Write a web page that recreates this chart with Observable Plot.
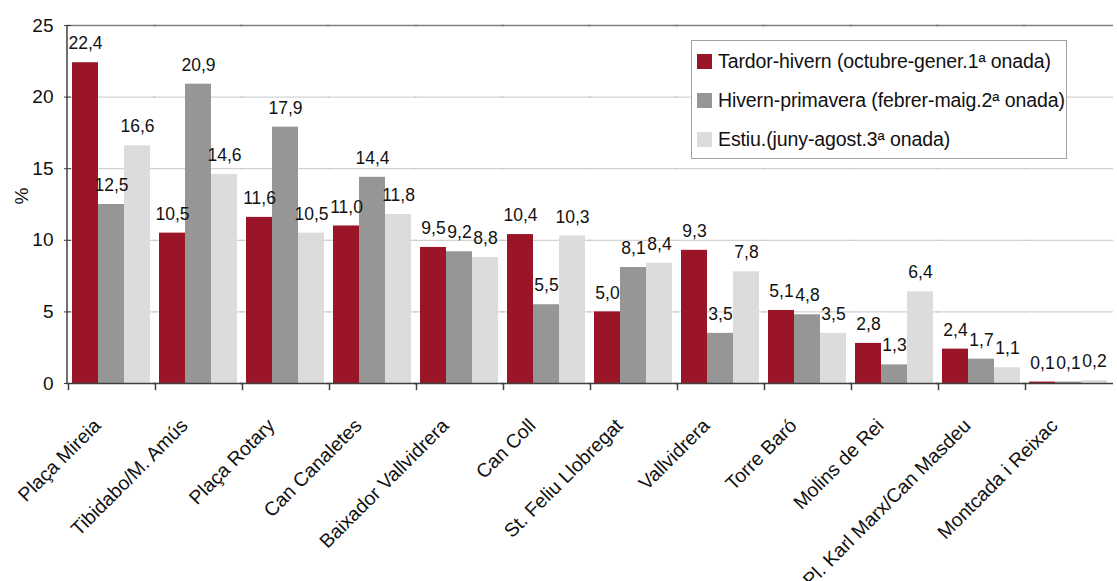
<!DOCTYPE html>
<html>
<head>
<meta charset="utf-8">
<script src="https://cdn.jsdelivr.net/npm/d3@7"></script>
<script src="https://cdn.jsdelivr.net/npm/@observablehq/plot@0.6"></script>
<style>
  body { margin: 0; background: #fff; font-family: "Liberation Sans", Arial, sans-serif; }
  #wrap { position: relative; width: 1117px; height: 581px; }
  #legend { position: absolute; left: 691px; top: 40px; width: 374px; height: 117px;
            border: 1px solid #a0a0a0; background: #fff; }
  .row { position: absolute; left: 5px; height: 20px; display: flex; align-items: center;
         font-size: 19.5px; color: #111; white-space: nowrap; letter-spacing: -0.1px; }
  .sw { width: 15px; height: 15px; margin-right: 6px; }
</style>
</head>
<body>
<div id="wrap"><div id="chart"></div><div id="legend"></div></div>
<script>
const categories = ["Plaça Mireia", "Tibidabo/M. Amús", "Plaça Rotary", "Can Canaletes",
  "Baixador Vallvidrera", "Can Coll", "St. Feliu Llobregat", "Vallvidrera", "Torre Baró",
  "Molins de Rei", "Pl. Karl Marx/Can Masdeu", "Montcada i Reixac"];
const series = ["Tardor-hivern (octubre-gener.1ª onada)",
  "Hivern-primavera (febrer-maig.2ª onada)",
  "Estiu.(juny-agost.3ª onada)"];
const tardorHivern    = [22.4, 10.5, 11.6, 11.0, 9.5, 10.4, 5.0, 9.3, 5.1, 2.8, 2.4, 0.1];
const hivernPrimavera = [12.5, 20.9, 17.9, 14.4, 9.2, 5.5, 8.1, 3.5, 4.8, 1.3, 1.7, 0.1];
const estiu           = [16.6, 14.6, 10.5, 11.8, 8.8, 10.3, 8.4, 7.8, 3.5, 6.4, 1.1, 0.2];
const yTicks = [0, 5, 10, 15, 20, 25];
const gridValues = [5, 10, 15, 20];
const colors = ["#9b1528", "#969696", "#dcdcdc"];

const valuesBySeries = [tardorHivern, hivernPrimavera, estiu];
const data = [];
categories.forEach((c, i) => series.forEach((s, j) => data.push({category: c, series: s, value: valuesBySeries[j][i]})));

const font = '"Liberation Sans", Arial, sans-serif';
const chart = Plot.plot({
  width: 1117, height: 581,
  marginLeft: 62, marginRight: 0, marginTop: 25, marginBottom: 198,
  style: {fontFamily: font, color: "#111", background: "#fff"},
  fx: {domain: categories, paddingInner: 0.076, paddingOuter: 0.057, label: null},
  x: {domain: series, padding: 0, axis: null},
  y: {domain: [0, 25], label: null},
  color: {domain: series, range: colors},
  marks: [
    Plot.ruleY(gridValues, {stroke: "#c8c8c8", strokeWidth: 1, insetLeft: -5, insetRight: -5}),
    Plot.barY(data, {fx: "category", x: "series", y: "value", fill: "series"}),
    Plot.text(data, {fx: "category", x: "series", y: "value",
      text: d => d.value.toFixed(1).replace(".", ","), dy: -19, fontSize: 17.5, fill: "#111"}),
    Plot.ruleY([25], {stroke: "#808080", strokeWidth: 1.5, insetLeft: -5, insetRight: -5}),
    Plot.ruleY([0], {stroke: "#404040", strokeWidth: 1.5, insetLeft: -5, insetRight: -5}),
    Plot.ruleX(categories.slice(0, 1), {fx: d => d, x: () => series[0], y1: 0, y2: 25, dx: -18.5, stroke: "#404040", strokeWidth: 1.5}),
    Plot.ruleX(categories, {fx: d => d, x: () => series[0], y1: 0, y2: -0.5, dx: -17, stroke: "#404040", strokeWidth: 1.5}),
    Plot.axisY(yTicks, {tickSize: 7, tickPadding: 11, fontSize: 19, stroke: "#404040", label: null}),
    Plot.text(["%"], {facet: "super", frameAnchor: "left", dx: -50, rotate: -90, fontSize: 19, fill: "#111"}),
    Plot.axisFx({anchor: "bottom", tickRotate: -45, tickSize: 0, tickPadding: 39, dx: -14, fontSize: 19.5, label: null, fill: "#111"})
  ]
});
document.getElementById("chart").appendChild(chart);

const legend = document.getElementById("legend");
series.forEach((s, j) => {
  const row = document.createElement("div");
  row.className = "row";
  row.style.top = (10 + j * 39) + "px";
  row.innerHTML = `<div class="sw" style="background:${colors[j]}"></div><span>${s}</span>`;
  legend.appendChild(row);
});
</script>
</body>
</html>
